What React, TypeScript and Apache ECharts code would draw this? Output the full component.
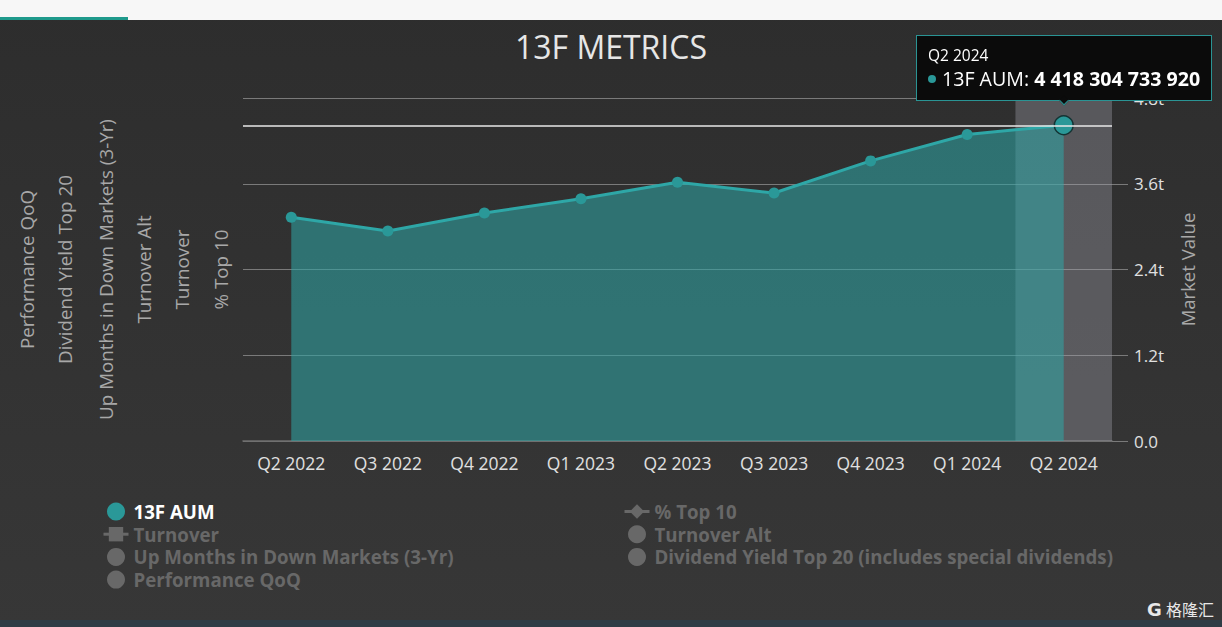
import React, { useEffect, useRef } from 'react';
import * as echarts from 'echarts';

const categories = ['Q2 2022', 'Q3 2022', 'Q4 2022', 'Q1 2023', 'Q2 2023', 'Q3 2023', 'Q4 2023', 'Q1 2024', 'Q2 2024'];
const aumValues = [3.13e12, 2.94e12, 3.19e12, 3.39e12, 3.62e12, 3.47e12, 3.92e12, 4.29e12, 4418304733920];
const hoveredIndex = 8;

const seriesNames = [
  '13F AUM',
  '% Top 10',
  'Turnover',
  'Turnover Alt',
  'Up Months in Down Markets (3-Yr)',
  'Dividend Yield Top 20 (includes special dividends)',
  'Performance QoQ',
];
const leftAxisNames = ['% Top 10', 'Turnover', 'Turnover Alt', 'Up Months in Down Markets (3-Yr)', 'Dividend Yield Top 20', 'Performance QoQ'];
const leftLegendNames = ['13F AUM', 'Turnover', 'Up Months in Down Markets (3-Yr)', 'Performance QoQ'];
const rightLegendNames = ['% Top 10', 'Turnover Alt', 'Dividend Yield Top 20 (includes special dividends)'];
const emptySeriesData: number[] = [];

const FONT = '"Open Sans", "Noto Sans", sans-serif';
const TEAL = '#2a9898';
const LEFT_GAPS = [13, 52, 90, 128, 169, 207];

function fmtSpaces(v: number) {
  return Math.round(v).toString().replace(/\B(?=(\d{3})+(?!\d))/g, ' ');
}

function legendItem(name: string) {
  if (name === 'Turnover' || name === '% Top 10') return { name };
  return { name, icon: 'circle' };
}

export default function App() {
  const ref = useRef<HTMLDivElement>(null);
  useEffect(() => {
    document.body.style.margin = '0';
    const chart = echarts.init(ref.current!, null, { renderer: 'svg' });
    const selected: Record<string, boolean> = {};
    seriesNames.forEach((n) => (selected[n] = n === '13F AUM'));

    const yAxes: any[] = [
      {
        type: 'value',
        position: 'right',
        min: 0,
        max: 4.8e12,
        interval: 1.2e12,
        name: 'Market Value',
        nameLocation: 'middle',
        nameGap: 66,
        nameTextStyle: { color: '#a8a8a8', fontSize: 18.5, fontFamily: FONT },
        axisLine: { show: false },
        axisTick: { show: true, length: 16, lineStyle: { color: '#7a7a7a' } },
        axisLabel: {
          color: '#e0e0e0',
          fontSize: 17,
          margin: 22,
          fontFamily: FONT,
          formatter: (v: number) => (v === 0 ? '0.0' : (v / 1e12).toFixed(1) + 't'),
        },
        splitLine: { show: true, lineStyle: { color: '#7a7a7a', width: 1 } },
        axisPointer: {
          show: true,
          type: 'line',
          status: 'show',
          value: aumValues[hoveredIndex],
          triggerTooltip: false,
          label: { show: false },
          lineStyle: { color: '#e8e8e8', width: 1.5, type: 'solid' },
        },
      },
    ];
    leftAxisNames.forEach((name, i) => {
      yAxes.push({
        type: 'value',
        position: 'left',
        name,
        nameLocation: 'middle',
        nameGap: LEFT_GAPS[i],
        nameTextStyle: { color: '#a8a8a8', fontSize: 18.8, fontFamily: FONT },
        axisLine: { show: false },
        axisTick: { show: false },
        axisLabel: { show: false },
        splitLine: { show: false },
      });
    });

    const series: any[] = [
      {
        name: '13F AUM',
        type: 'line',
        yAxisIndex: 0,
        data: aumValues,
        symbol: 'circle',
        symbolSize: 11,
        lineStyle: { color: TEAL, width: 3 },
        itemStyle: { color: TEAL },
        areaStyle: { color: 'rgba(42,150,150,0.8)' },
        emphasis: {
          scale: 1.7,
          itemStyle: { color: TEAL, borderColor: '#143434', borderWidth: 1.5 },
          lineStyle: { width: 3 },
        },
        z: 3,
      },
    ];
    leftAxisNames.forEach((_, i) => {
      const name = seriesNames[i + 1];
      series.push({
        name,
        type: 'line',
        yAxisIndex: i + 1,
        data: emptySeriesData,
        symbol: name === '% Top 10' ? 'diamond' : name === 'Turnover' ? 'rect' : 'circle',
      });
    });

    const legendBase = {
      orient: 'vertical',
      top: 497,
      itemWidth: 25,
      itemHeight: 18,
      itemGap: 3.7,
      selected,
      inactiveColor: '#686868',
      inactiveBorderColor: '#686868',
      lineStyle: { inactiveColor: '#686868', inactiveWidth: 3 },
      textStyle: { color: '#ffffff', fontWeight: 'bold', fontSize: 18.7, fontFamily: FONT },
    };

    chart.setOption({
      animation: false,
      backgroundColor: {
        type: 'linear', x: 0, y: 0, x2: 0, y2: 1,
        colorStops: [
          { offset: 0, color: '#2d2d2d' },
          { offset: 1, color: '#373737' },
        ],
      },
      textStyle: { fontFamily: FONT },
      title: {
        text: '13F METRICS',
        left: 'center',
        top: 25,
        textStyle: { color: '#e6e6e6', fontSize: 32, fontWeight: 'normal', fontFamily: FONT },
      },
      grid: { left: 243, right: 110, top: 98, bottom: 186, containLabel: false },
      xAxis: {
        type: 'category',
        data: categories,
        boundaryGap: true,
        axisLine: { show: true, lineStyle: { color: '#6e6e6e', width: 1.5 } },
        axisTick: { show: false },
        axisLabel: { color: '#e0e0e0', fontSize: 17.5, margin: 13, fontFamily: FONT },
        splitLine: { show: false },
        axisPointer: {
          show: true,
          type: 'shadow',
          status: 'show',
          value: hoveredIndex,
          triggerTooltip: false,
          z: 1,
          label: { show: false },
          shadowStyle: { color: 'rgba(160,160,172,0.37)' },
        },
      },
      yAxis: yAxes,
      series,
      legend: [
        { ...legendBase, left: 97, data: leftLegendNames.map(legendItem) },
        { ...legendBase, left: 618, data: rightLegendNames.map(legendItem) },
      ],
      tooltip: {
        trigger: 'item',
        position: 'top',
        alwaysShowContent: true,
        showDelay: 0,
        hideDelay: 100000,
        transitionDuration: 0,
        confine: false,
        backgroundColor: '#0b0b0b',
        borderColor: '#2a9494',
        borderWidth: 1,
        padding: [9, 11, 8, 11],
        extraCssText: 'border-radius:0;box-shadow:none;margin-top:-9px;',
        textStyle: { color: '#ffffff', fontFamily: FONT },
        formatter: (p: any) =>
          `<div style="font-size:15.5px;line-height:21px;color:#fff">${p.name}</div>` +
          `<div style="font-size:19.6px;line-height:26px;color:#fff">` +
          `<span style="display:inline-block;width:8px;height:8px;border-radius:50%;background:${p.color};margin-right:6px;vertical-align:middle;position:relative;top:-2px"></span>` +
          `${p.seriesName}: <b>${fmtSpaces(p.value)}</b></div>`,
      },
      graphic: [
        { type: 'rect', shape: { x: 0, y: 0, width: 1222, height: 20 }, style: { fill: '#f7f7f7' }, silent: true },
        { type: 'rect', shape: { x: 0, y: 17, width: 128, height: 3 }, style: { fill: '#1f9a8c' }, silent: true },
        { type: 'rect', shape: { x: 0, y: 620, width: 1222, height: 7 }, style: { fill: '#2f3c45' }, silent: true },
        {
          type: 'text', x: 1147, y: 600,
          style: { text: 'G', fill: '#e8e8e8', font: 'bold 18px "DejaVu Sans", sans-serif' },
          silent: true,
        },
        {
          type: 'text', x: 1166, y: 601,
          style: { text: '格隆汇', fill: '#e8e8e8', font: '16px "Noto Sans CJK SC", sans-serif' },
          silent: true,
        },
      ],
    });

    chart.dispatchAction({ type: 'highlight', seriesIndex: 0, dataIndex: hoveredIndex });
    chart.dispatchAction({ type: 'showTip', seriesIndex: 0, dataIndex: hoveredIndex });

    return () => chart.dispose();
  }, []);

  return <div ref={ref} style={{ width: 1222, height: 627 }} />;
}
